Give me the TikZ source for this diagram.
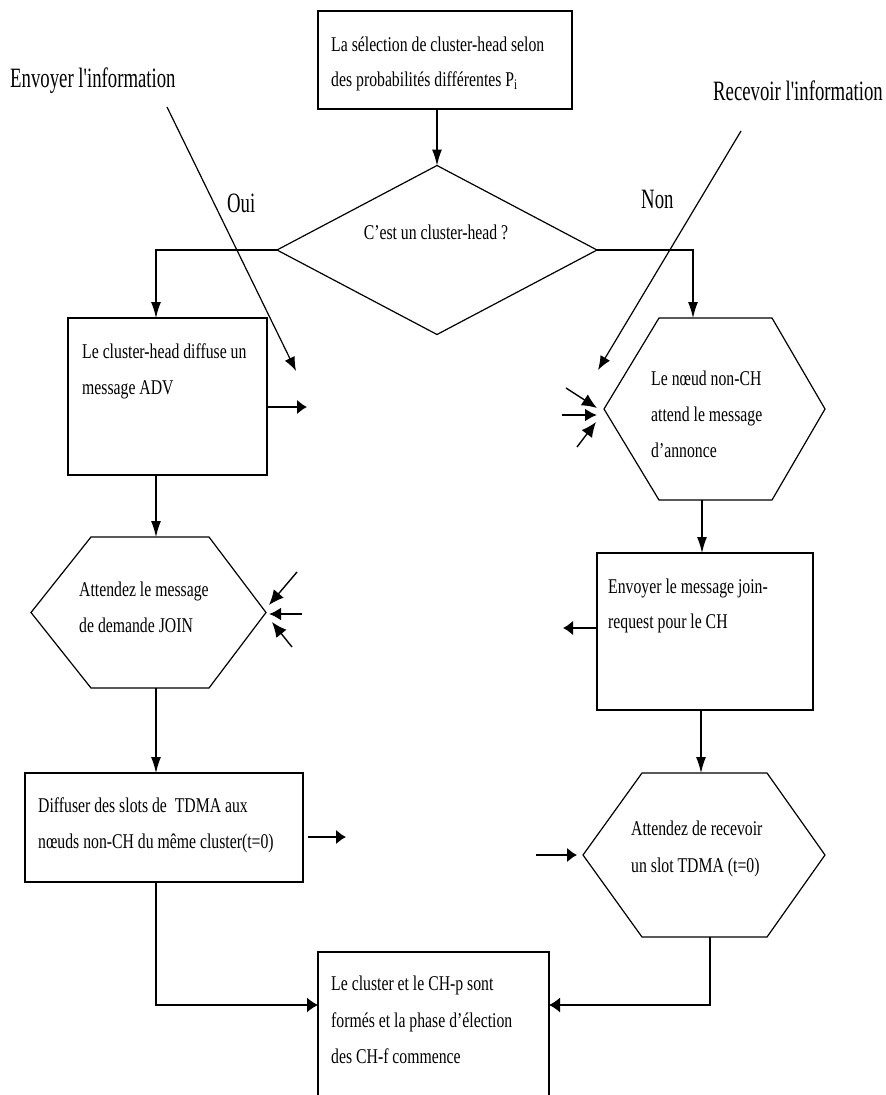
\documentclass[tikz,border=0pt]{standalone}
\usepackage{fontspec}
\usetikzlibrary{arrows.meta,calc}
\newfontfamily\bxf[FakeStretch=0.75]{Liberation Serif}
\newfontfamily\lbf[FakeStretch=0.67]{Liberation Serif}
\begin{document}
\begin{tikzpicture}[x=1pt,y=-1pt,
  shp/.style={draw=none,inner sep=0pt,outer sep=0pt},
  boxs/.style={draw,line width=1.4pt,inner sep=0pt,outer sep=0pt},
  outl/.style={line width=1.2pt,line join=miter},
  txt/.style={font=\bxf\fontsize{21}{25}\selectfont,inner sep=0pt,anchor=base west},
  lab/.style={font=\lbf\fontsize{28}{32}\selectfont,inner sep=0pt,anchor=base west},
  varr/.style={line width=1.2pt,-{Latex[length=16pt,width=10pt]}},
  harr/.style={line width=1.2pt,-{Latex[length=11pt,width=15pt]}},
  darr/.style={line width=1.2pt,-{Latex[length=14pt,width=11pt]}},
  convarr/.style={line width=1.4pt,-{Latex[length=15pt,width=13pt]}},
  stubarr/.style={line width=2.4pt,-{Latex[length=10pt,width=15pt]}}]
\useasboundingbox (0,0) rectangle (886,1095);
\begin{scope}
\clip (0,0) rectangle (886,1095);
% shapes
\node[boxs,minimum width=254pt,minimum height=98pt] (T) at (445,60) {};
\node[shp,minimum width=320pt,minimum height=169pt] (D) at (437,250) {};
\draw[outl] (D.north)--(D.east)--(D.south)--(D.west)--cycle;
\node[boxs,minimum width=199pt,minimum height=157pt] (L1) at (167.5,396.5) {};
\node[shp,minimum width=221pt,minimum height=182pt] (H2) at (714.5,409) {};
\draw[outl] ($(H2.north west)+(55,0)$)--($(H2.north east)+(-53,0)$)--(H2.east)--($(H2.south east)+(-53,0)$)--($(H2.south west)+(55,0)$)--(H2.west)--cycle;
\node[boxs,minimum width=216pt,minimum height=157pt] (R1) at (705,631.5) {};
\node[shp,minimum width=235pt,minimum height=151pt] (H1) at (148.5,612.5) {};
\draw[outl] ($(H1.north west)+(60,0)$)--($(H1.north east)+(-57,0)$)--(H1.east)--($(H1.south east)+(-57,0)$)--($(H1.south west)+(60,0)$)--(H1.west)--cycle;
\node[boxs,minimum width=278pt,minimum height=109pt] (L2) at (164,827.5) {};
\node[shp,minimum width=242pt,minimum height=164pt] (H3) at (704,855) {};
\draw[outl] ($(H3.north west)+(59,0)$)--($(H3.north east)+(-58,0)$)--(H3.east)--($(H3.south east)+(-58,0)$)--($(H3.south west)+(59,0)$)--(H3.west)--cycle;
\node[boxs,minimum width=231pt,minimum height=163pt] (B) at (433.5,1033.5) {};
% column coordinates
\coordinate (cL) at (156,0);
\coordinate (cR1) at (693,0);
\coordinate (cR2) at (702,0);
\coordinate (cR3) at (701,0);
\coordinate (cR4) at (710,0);
\coordinate (Bl) at ($(B.north west)+(0,53)$);
\coordinate (Br) at ($(B.north east)+(0,53)$);
% connectors
\draw[varr] (T.south -| D.north) -- (D.north);
\draw[varr] (D.west) -| (cL |- L1.north);
\draw[varr] (D.east) -| (cR1 |- H2.north);
\draw[varr] (cL |- L1.south) -- (cL |- H1.north);
\draw[varr] (cL |- H1.south) -- (cL |- L2.north);
\draw[harr] (cL |- L2.south) |- (Bl);
\draw[varr] (cR2 |- H2.south) -- (cR2 |- R1.north);
\draw[varr] (cR3 |- R1.south) -- (cR3 |- H3.north);
\draw[harr] (cR4 |- H3.south) |- (Br);
% labels
\node[lab] (lEnv) at (10,87) {Envoyer l'information};
\node[lab] (lRec) at (713,100) {Recevoir l'information};
\node[lab] (lOui) at (227,212) {Oui};
\node[lab] (lNon) at (641,208) {Non};
% diagonal arrows
\coordinate (envS) at (167,107);
\coordinate (envE) at (296,371);
\coordinate (recS) at (741,131);
\coordinate (recE) at (598,370);
\draw[darr] (envS) -- (envE);
\draw[darr] (recS) -- (recE);
% stub arrows
\coordinate (s1a) at (267,407); \coordinate (s1b) at (307,407);
\coordinate (s2a) at (597,628); \coordinate (s2b) at (563,628);
\coordinate (s3a) at (308,837); \coordinate (s3b) at (346,837);
\coordinate (s4a) at (536,855); \coordinate (s4b) at (577,855);
\draw[stubarr] (s1a) -- (s1b);
\draw[stubarr] (s2a) -- (s2b);
\draw[stubarr] (s3a) -- (s3b);
\draw[stubarr] (s4a) -- (s4b);
% converging arrows at H2
\coordinate (c1a) at (566,388); \coordinate (c1b) at (597,408);
\coordinate (c2a) at (562,415); \coordinate (c2b) at (597,415);
\coordinate (c3a) at (577,447); \coordinate (c3b) at (596,422);
\draw[convarr] (c1a) -- (c1b);
\draw[line width=2.2pt,-{Latex[length=12pt,width=13pt]}] (c2a) -- (c2b);
\draw[convarr] (c3a) -- (c3b);
% converging arrows at H1
\coordinate (d1a) at (297,572); \coordinate (d1b) at (269,605);
\coordinate (d2a) at (302,614); \coordinate (d2b) at (269,614);
\coordinate (d3a) at (292,647); \coordinate (d3b) at (272,622);
\draw[convarr] (d1a) -- (d1b);
\draw[line width=2.2pt,-{Latex[length=12pt,width=13pt]}] (d2a) -- (d2b);
\draw[convarr] (d3a) -- (d3b);
% texts
\node[txt] (tT1) at (331,51) {La sélection de cluster-head selon};
\node[txt] (tT2) at (331,86) {des probabilités différentes P\textsubscript{i}};
\node[txt,anchor=base] (tD) at (436,239) {C’est un cluster-head ?};
\node[txt] (tL1a) at (82,358) {Le cluster-head diffuse un};
\node[txt] (tL1b) at (82,394) {message ADV};
\node[txt] (tH2a) at (651,385) {Le nœud non-CH};
\node[txt] (tH2b) at (651,421) {attend le message};
\node[txt] (tH2c) at (651,457) {d’annonce};
\node[txt] (tR1a) at (608,593) {Envoyer le message join-};
\node[txt] (tR1b) at (608,628) {request pour le CH};
\node[txt] (tH1a) at (79,596) {Attendez le message};
\node[txt] (tH1b) at (79,632) {de demande JOIN};
\node[txt] (tL2a) at (38,812) {Diffuser des slots de\ \ TDMA aux};
\node[txt] (tL2b) at (38,848) {nœuds non-CH du même cluster(t=0)};
\node[txt] (tH3a) at (631,835) {Attendez de recevoir};
\node[txt] (tH3b) at (631,872) {un slot TDMA (t=0)};
\node[txt] (tBa) at (331,990) {Le cluster et le CH-p sont};
\node[txt] (tBb) at (331,1027) {formés et la phase d’élection};
\node[txt] (tBc) at (331,1063) {des CH-f commence};
\end{scope}
\end{tikzpicture}
\end{document}
